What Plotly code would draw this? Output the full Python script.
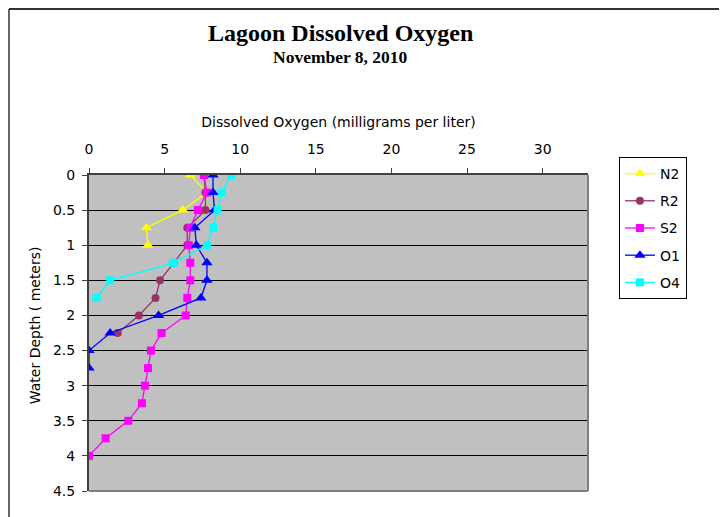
import plotly.graph_objects as go

# water depth in meters (every 0.25 m)
depth = [0, 0.25, 0.5, 0.75, 1.0, 1.25, 1.5, 1.75, 2.0,
         2.25, 2.5, 2.75, 3.0, 3.25, 3.5, 3.75, 4.0]

# dissolved oxygen (mg/L) per station, read top-down
n2 = [6.7, 7.8, 6.2, 3.8, 3.9]
r2 = [7.6, 7.7, 7.7, 6.5, 6.5, 5.6, 4.7, 4.4, 3.3, 1.9]
s2 = [7.6, 7.8, 7.2, 6.7, 6.6, 6.7, 6.7, 6.5, 6.4, 4.8, 4.1, 3.9, 3.7, 3.5, 2.6, 1.1, 0.0]
o1 = [8.2, 8.2, 8.3, 7.0, 7.1, 7.8, 7.8, 7.4, 4.6, 1.4, 0.0, 0.0]
o4 = [9.4, 8.8, 8.5, 8.2, 7.8, 5.6, 1.4, 0.5]

series = [
    ("N2", n2, "#FFFF00", "triangle-up", 10),
    ("R2", r2, "#993366", "circle", 8),
    ("S2", s2, "#FF00FF", "square", 8),
    ("O1", o1, "#0000FF", "triangle-up", 10),
    ("O4", o4, "#00FFFF", "square", 8),
]

fig = go.Figure()
for name, vals, color, symbol, size in series:
    fig.add_trace(go.Scatter(
        x=vals,
        y=depth[:len(vals)],
        mode="lines+markers",
        name=name,
        legendgroup=name,
        line=dict(color=color, width=1.3),
        marker=dict(color=color, symbol=symbol, size=size),
    ))

axis_font = dict(family="DejaVu Sans, Arial, sans-serif", size=14, color="black")
serif = "Liberation Serif, Times New Roman, serif"

# page body has an 8px margin, so the figure is 8px smaller on each axis
fig.update_layout(
    width=719, height=509,
    margin=dict(l=81, r=139, t=167, b=26),
    paper_bgcolor="white",
    plot_bgcolor="#C0C0C0",
    font=axis_font,
    showlegend=True,
    legend=dict(
        x=1.062, y=1.057, xanchor="left", yanchor="top",
        bordercolor="black", borderwidth=1, bgcolor="white",
        font=dict(family="DejaVu Sans, Arial, sans-serif", size=14),
        tracegroupgap=6,
    ),
    xaxis=dict(
        side="top", range=[0, 33], dtick=5, tick0=0,
        showgrid=False, zeroline=False,
        ticks="outside", ticklen=5, tickcolor="#404040",
        ticklabelstandoff=8,
        showline=True, linecolor="#404040", linewidth=2,
        tickfont=axis_font,
        title=dict(text="Dissolved Oxygen (milligrams per liter)", font=axis_font, standoff=11),
    ),
    yaxis=dict(
        range=[4.5, 0], dtick=0.5, tick0=0,
        showgrid=True, gridcolor="black", gridwidth=1, zeroline=False,
        ticks="outside", ticklen=5, tickcolor="#404040",
        ticklabelstandoff=4,
        showline=True, linecolor="#404040", linewidth=2,
        tickfont=axis_font,
    ),
    annotations=[
        dict(text="<b>Lagoon Dissolved Oxygen</b>", x=0.505, y=1.449, xref="paper", yref="paper",
             xanchor="center", yanchor="middle", showarrow=False,
             font=dict(family=serif, size=24)),
        dict(text="<b>November 8, 2010</b>", x=0.505, y=1.372, xref="paper", yref="paper",
             xanchor="center", yanchor="middle", showarrow=False,
             font=dict(family=serif, size=17.5)),
        dict(text="Water Depth ( meters)", textangle=-90, x=-0.108, y=0.525,
             xref="paper", yref="paper", xanchor="center", yanchor="middle",
             showarrow=False, font=axis_font),
    ],
    shapes=[
        # gray border on right and bottom of plot area
        dict(type="line", xref="paper", yref="paper", x0=1, x1=1, y0=0, y1=1,
             line=dict(color="#808080", width=2)),
        dict(type="line", xref="paper", yref="paper", x0=0, x1=1, y0=0, y1=0,
             line=dict(color="#808080", width=2)),
        # outer chart frame (top and left)
        dict(type="line", xref="paper", yref="paper", x0=-0.1603, x1=1.3, y0=1.525, y1=1.525,
             line=dict(color="#333333", width=2)),
        dict(type="line", xref="paper", yref="paper", x0=-0.1603, x1=-0.1603, y0=-0.1, y1=1.525,
             line=dict(color="#333333", width=1.5)),
    ],
)

fig.write_html("out.html")
